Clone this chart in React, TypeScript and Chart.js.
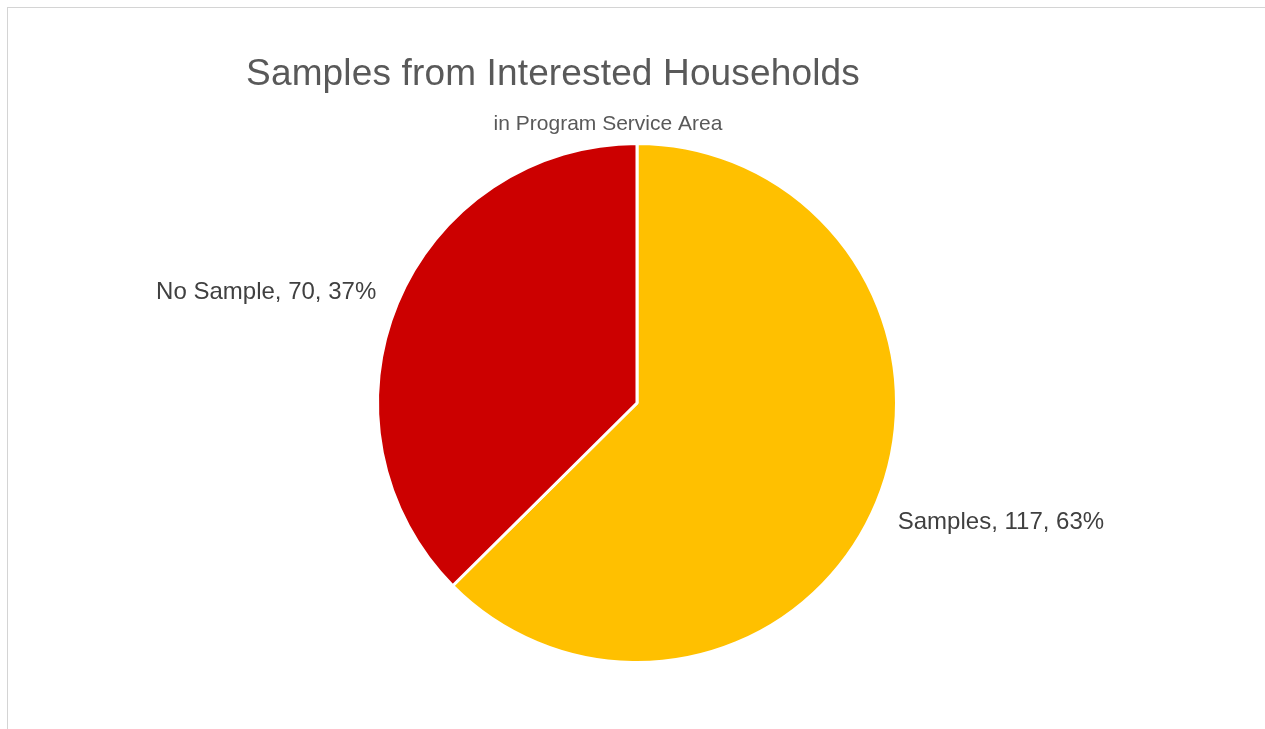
import React, { useEffect, useRef } from "react";
import { Chart, registerables } from "chart.js";

Chart.register(...registerables);

const categories = ["Samples", "No Sample"];
const values = [117, 70];
const percentLabels = ["63%", "37%"];
const colors = ["#FFC000", "#CC0000"];
const titleText = "Samples from Interested Households";
const subtitleText = "in Program Service Area";

const FONT = "'Liberation Sans', Arial, Helvetica, sans-serif";

const textPlugin = {
  id: "textPlugin",
  afterDraw(chart: any) {
    const ctx = chart.ctx;
    ctx.save();
    ctx.fillStyle = "#595959";
    ctx.textAlign = "center";
    ctx.textBaseline = "middle";
    ctx.font = `37px ${FONT}`;
    (ctx as any).letterSpacing = "0.15px";
    ctx.fillText(titleText, 553, 75);
    ctx.font = `21px ${FONT}`;
    (ctx as any).letterSpacing = "0px";
    ctx.fillText(subtitleText, 608, 124);

    const meta = chart.getDatasetMeta(0);
    ctx.font = `24px ${FONT}`;
    ctx.fillStyle = "#404040";
    meta.data.forEach((arc: any, i: number) => {
      const { x, y, startAngle, endAngle, outerRadius } = arc.getProps(
        ["x", "y", "startAngle", "endAngle", "outerRadius"],
        true
      );
      const mid = (startAngle + endAngle) / 2;
      const r = outerRadius + 23;
      const lx = x + Math.cos(mid) * r;
      const ly = y + Math.sin(mid) * r + (Math.sin(mid) > 0 ? 11 : -2);
      ctx.textAlign = Math.cos(mid) < 0 ? "right" : "left";
      ctx.textBaseline = "middle";
      ctx.fillText(`${categories[i]}, ${values[i]}, ${percentLabels[i]}`, lx, ly);
    });
    ctx.restore();
  },
};

export default function App() {
  const ref = useRef<HTMLCanvasElement>(null);
  useEffect(() => {
    if (!ref.current) return;
    const chart = new Chart(ref.current, {
      type: "pie",
      data: {
        labels: categories,
        datasets: [
          {
            data: values,
            backgroundColor: colors,
            borderColor: "#ffffff",
            borderWidth: 3,
          },
        ],
      },
      options: {
        animation: false,
        responsive: false,
        layout: { padding: { top: 142, bottom: 65, left: 376, right: 367 } },
        plugins: {
          legend: { display: false },
          title: { display: false },
          tooltip: { enabled: false },
        },
      },
      plugins: [textPlugin],
    });
    return () => chart.destroy();
  }, []);
  return (
    <div style={{ position: "fixed", left: 0, top: 0, width: 1265, height: 729, background: "#fff" }}>
      <div
        style={{
          position: "absolute",
          left: 7,
          top: 7,
          width: 1300,
          height: 800,
          border: "1.5px solid #d4d4d4",
          boxSizing: "border-box",
        }}
      />
      <canvas ref={ref} width={1265} height={729} style={{ position: "absolute", left: 0, top: 0 }} />
    </div>
  );
}
